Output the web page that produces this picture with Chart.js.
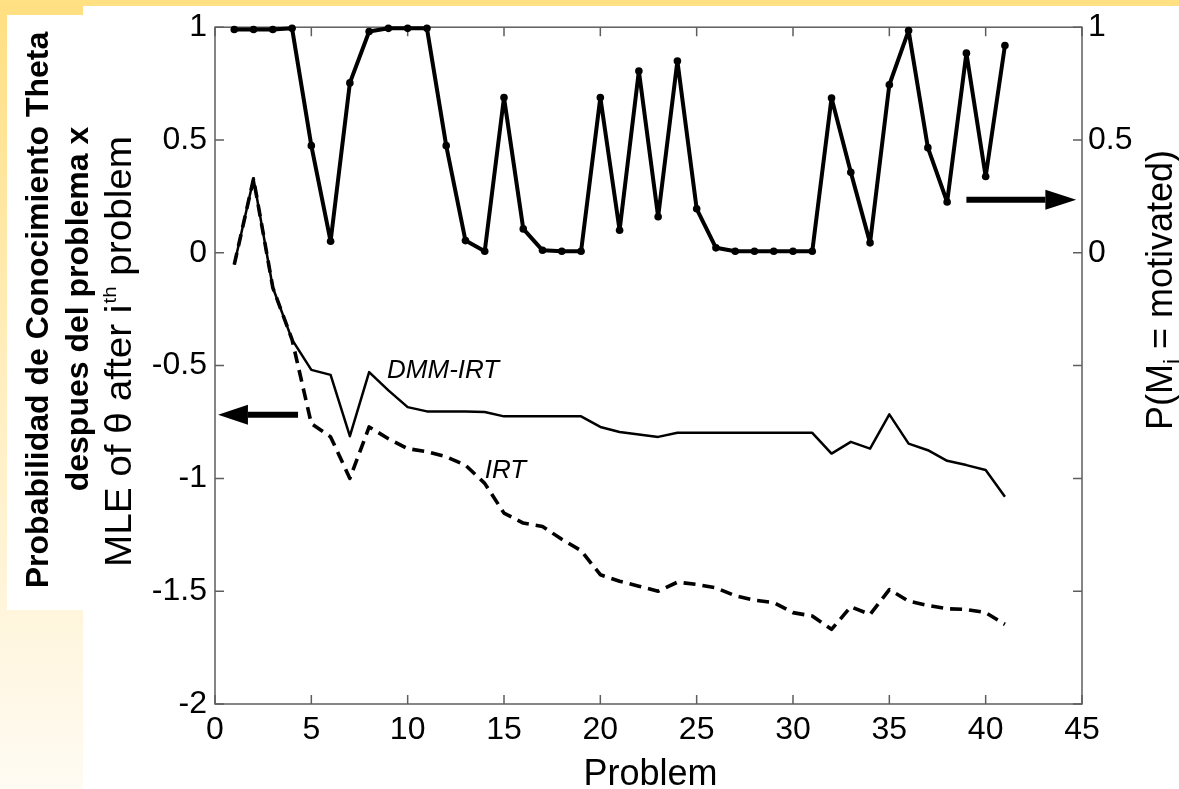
<!DOCTYPE html>
<html>
<head>
<meta charset="utf-8">
<script src="https://cdn.jsdelivr.net/npm/chart.js@4.4.1/dist/chart.umd.min.js"></script>
<style>
  html, body { margin: 0; padding: 0; background: #ffffff; overflow: hidden; }
  canvas { display: block; }
</style>
</head>
<body>
<canvas id="chart" width="1179" height="789"></canvas>
<script>
// Problem index (x axis)
const problems = [1, 2, 3, 4, 5, 6, 7, 8, 9, 10, 11, 12, 13, 14, 15, 16, 17, 18, 19, 20,
                  21, 22, 23, 24, 25, 26, 27, 28, 29, 30, 31, 32, 33, 34, 35, 36, 37, 38, 39, 40, 41];

// P(M_i = motivated) after each problem (right axis)
const pMotivated = [0.99, 0.99, 0.99, 0.995, 0.475, 0.051, 0.753, 0.981, 0.995, 0.995,
                    0.995, 0.475, 0.054, 0.007, 0.688, 0.106, 0.011, 0.007, 0.007, 0.688,
                    0.10, 0.806, 0.16, 0.85, 0.195, 0.022, 0.007, 0.007, 0.007, 0.007,
                    0.007, 0.686, 0.357, 0.044, 0.745, 0.985, 0.466, 0.225, 0.885, 0.338, 0.919];

// MLE of theta, DMM-IRT model (left axis, solid)
const thetaDmmIrt = [-0.052, 0.328, -0.154, -0.385, -0.519, -0.541, -0.813, -0.529, -0.61, -0.684,
                     -0.703, -0.703, -0.703, -0.706, -0.725, -0.725, -0.725, -0.725, -0.725, -0.772,
                     -0.794, -0.805, -0.816, -0.798, -0.798, -0.798, -0.798, -0.798, -0.798, -0.798,
                     -0.798, -0.89, -0.838, -0.868, -0.716, -0.846, -0.875, -0.922, -0.941, -0.963, -1.081];

// MLE of theta, plain IRT model (left axis, dashed)
const thetaIrt = [-0.052, 0.328, -0.154, -0.385, -0.757, -0.816, -1.0, -0.772, -0.824, -0.868,
                  -0.882, -0.904, -0.941, -1.022, -1.154, -1.198, -1.213, -1.27, -1.32, -1.427,
                  -1.456, -1.478, -1.5, -1.46, -1.47, -1.485, -1.52, -1.54, -1.55, -1.595,
                  -1.61, -1.669, -1.569, -1.603, -1.493, -1.544, -1.563, -1.578, -1.581, -1.595, -1.647];

// Tick values
const xTickValues = [0, 5, 10, 15, 20, 25, 30, 35, 40, 45];
const yTickValues = [-2, -1.5, -1, -0.5, 0, 0.5, 1];
const rightTickValues = [0, 0.5, 1];

const FONT = "'Liberation Sans', Arial, Helvetica, sans-serif";

function pts(ys) { return problems.map((p, i) => ({ x: p, y: ys[i] })); }

function rotatedText(ctx, text, x, y, font, align) {
  ctx.save();
  ctx.translate(x, y);
  ctx.rotate(-Math.PI / 2);
  ctx.font = font;
  ctx.textAlign = align;
  ctx.textBaseline = 'alphabetic';
  ctx.fillText(text, 0, 0);
  ctx.restore();
}

function arrow(ctx, x0, x1, xHead, y, shaft, half) {
  ctx.save();
  ctx.fillStyle = '#000';
  ctx.strokeStyle = '#000';
  ctx.lineWidth = shaft;
  ctx.beginPath();
  ctx.moveTo(x0, y);
  ctx.lineTo(xHead, y);
  ctx.stroke();
  ctx.beginPath();
  ctx.moveTo(x1, y);
  ctx.lineTo(xHead, y - half);
  ctx.lineTo(xHead, y + half);
  ctx.closePath();
  ctx.fill();
  ctx.restore();
}

const decor = {
  id: 'decor',
  beforeDraw(chart) {
    const ctx = chart.ctx;
    const W = chart.width, H = chart.height;
    ctx.save();
    const g = ctx.createLinearGradient(0, 0, 0, H);
    g.addColorStop(0, '#ffdf80');
    g.addColorStop(0.45, '#ffedbb');
    g.addColorStop(1, '#fffbf3');
    ctx.fillStyle = g;
    ctx.fillRect(0, 0, W, H);
    ctx.fillStyle = '#ffe083';
    ctx.fillRect(0, 0, W, 6);
    ctx.fillStyle = '#ffffff';
    ctx.fillRect(83, 6, W - 83, H - 6);
    ctx.fillRect(7, 15, 77, 595);
    ctx.restore();
  },
  beforeDatasetsDraw(chart) {
    const ctx = chart.ctx;
    const a = chart.chartArea;
    const xs = chart.scales.x, ys = chart.scales.y;
    ctx.save();
    ctx.strokeStyle = '#5e5e5e';
    ctx.lineWidth = 1.5;
    ctx.strokeRect(a.left, a.top, a.right - a.left, a.bottom - a.top);
    ctx.beginPath();
    xTickValues.forEach(v => {
      const px = xs.getPixelForValue(v);
      ctx.moveTo(px, a.bottom); ctx.lineTo(px, a.bottom - 9);
      ctx.moveTo(px, a.top); ctx.lineTo(px, a.top + 9);
    });
    yTickValues.forEach(v => {
      const py = ys.getPixelForValue(v);
      ctx.moveTo(a.left, py); ctx.lineTo(a.left + 9, py);
      ctx.moveTo(a.right, py); ctx.lineTo(a.right - 9, py);
    });
    ctx.stroke();
    ctx.restore();
  },
  afterDraw(chart) {
    const ctx = chart.ctx;
    const xs = chart.scales.x, ys = chart.scales.y;
    ctx.save();
    ctx.fillStyle = '#000';

    // direction arrows
    arrow(ctx, xs.getPixelForValue(4.31), xs.getPixelForValue(0.16), xs.getPixelForValue(1.71),
          ys.getPixelForValue(-0.718), 6, 10);
    arrow(ctx, xs.getPixelForValue(39.0), xs.getPixelForValue(44.7), xs.getPixelForValue(43.1),
          ys.getPixelForValue(0.235), 6, 10);

    // curve labels
    ctx.font = 'italic 26px ' + FONT;
    ctx.textAlign = 'left';
    ctx.textBaseline = 'middle';
    ctx.fillText('DMM-IRT', xs.getPixelForValue(8.93), ys.getPixelForValue(-0.524));
    ctx.fillText('IRT', xs.getPixelForValue(14.0), ys.getPixelForValue(-0.965));

    // x title
    ctx.font = '36px ' + FONT;
    ctx.textAlign = 'center';
    ctx.textBaseline = 'alphabetic';
    ctx.fillText('Problem', (chart.chartArea.left + chart.chartArea.right) / 2 + 2, 785);

    // left titles
    rotatedText(ctx, 'Probabilidad de Conocimiento Theta', 48, 310, 'bold 32px ' + FONT, 'center');
    rotatedText(ctx, 'despues del problema x', 88, 309, 'bold 32px ' + FONT, 'center');

    // MLE of θ after i^th problem (slightly wide setting)
    ctx.save();
    ctx.translate(131, 567);
    ctx.rotate(-Math.PI / 2);
    ctx.scale(1.075, 1);
    ctx.textAlign = 'left';
    ctx.textBaseline = 'alphabetic';
    ctx.font = '36px ' + FONT;
    const p1 = 'MLE of \u03B8 after i';
    ctx.fillText(p1, 0, 0);
    let off = ctx.measureText(p1).width + 1;
    ctx.font = '19px ' + FONT;
    ctx.fillText('th', off, -15);
    off += ctx.measureText('th').width;
    ctx.font = '36px ' + FONT;
    ctx.fillText(' problem', off, 0);
    ctx.restore();

    // right title: P(M_i = motivated)
    ctx.save();
    ctx.font = '36px ' + FONT;
    const a1 = 'P(M', a2 = ' = motivated)';
    const w1 = ctx.measureText(a1).width, w2 = ctx.measureText(a2).width;
    ctx.font = '22px ' + FONT;
    const ws = ctx.measureText('i').width;
    const total = w1 + ws + w2;
    ctx.translate(1172, 290);
    ctx.rotate(-Math.PI / 2);
    ctx.textAlign = 'left';
    ctx.textBaseline = 'alphabetic';
    ctx.font = '36px ' + FONT;
    ctx.fillText(a1, -total / 2, 0);
    ctx.font = '22px ' + FONT;
    ctx.fillText('i', -total / 2 + w1, 7);
    ctx.font = '36px ' + FONT;
    ctx.fillText(a2, -total / 2 + w1 + ws, 0);
    ctx.restore();

    ctx.restore();
  }
};

new Chart(document.getElementById('chart'), {
  type: 'line',
  data: {
    datasets: [
      {
        label: 'P(M = motivated)',
        data: pts(pMotivated),
        yAxisID: 'y2',
        borderColor: '#000',
        backgroundColor: '#000',
        borderWidth: 4,
        borderJoinStyle: 'round',
        borderCapStyle: 'round',
        pointRadius: 3.8,
        pointBorderWidth: 0,
        pointBackgroundColor: '#000',
        tension: 0,
        clip: false
      },
      {
        label: 'DMM-IRT',
        data: pts(thetaDmmIrt),
        yAxisID: 'y',
        borderColor: '#000',
        borderWidth: 2.5,
        borderJoinStyle: 'round',
        pointRadius: 0,
        tension: 0,
        clip: false
      },
      {
        label: 'IRT',
        data: pts(thetaIrt),
        yAxisID: 'y',
        borderColor: '#000',
        borderWidth: 3.6,
        borderDash: [12, 7],
        borderJoinStyle: 'round',
        pointRadius: 0,
        tension: 0,
        clip: false
      }
    ]
  },
  options: {
    responsive: false,
    animation: false,
    events: [],
    layout: { padding: { top: 22, left: 0, right: 0, bottom: 0 } },
    plugins: { legend: { display: false }, tooltip: { enabled: false } },
    scales: {
      x: {
        type: 'linear',
        min: 0, max: 45,
        afterBuildTicks: s => { s.ticks = xTickValues.map(v => ({ value: v })); },
        afterFit: s => { s.height = 85; },
        grid: { display: false, drawTicks: false },
        border: { display: false },
        ticks: {
          autoSkip: false, maxRotation: 0, padding: 7,
          color: '#000', font: { family: FONT, size: 32 },
          callback: v => String(v)
        }
      },
      y: {
        type: 'linear',
        position: 'left',
        min: -2, max: 1,
        afterBuildTicks: s => { s.ticks = yTickValues.map(v => ({ value: v })); },
        afterFit: s => { s.width = 215; },
        grid: { display: false, drawTicks: false },
        border: { display: false },
        ticks: {
          padding: 8, color: '#000', font: { family: FONT, size: 32 },
          callback: v => String(v)
        }
      },
      y2: {
        type: 'linear',
        position: 'right',
        min: -2, max: 1,
        afterBuildTicks: s => { s.ticks = yTickValues.map(v => ({ value: v })); },
        afterFit: s => { s.width = 97; },
        grid: { display: false, drawTicks: false },
        border: { display: false },
        ticks: {
          padding: 6, color: '#000', font: { family: FONT, size: 32 },
          callback: v => (rightTickValues.includes(v) ? String(v) : '')
        }
      }
    }
  },
  plugins: [decor]
});
</script>
</body>
</html>
